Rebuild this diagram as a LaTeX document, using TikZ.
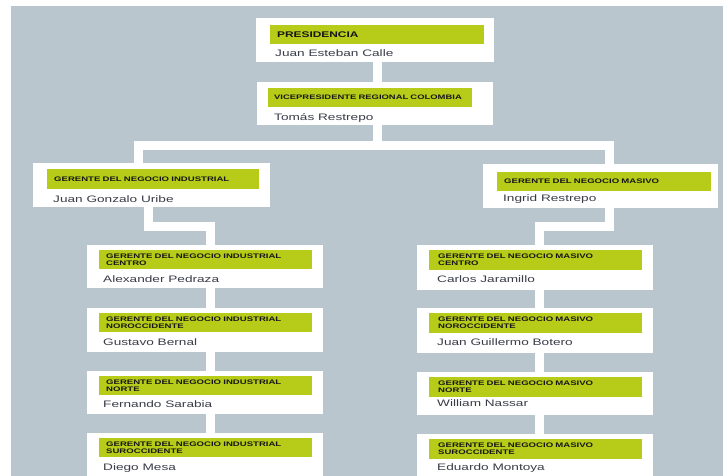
\documentclass[tikz,border=0pt]{standalone}
\usepackage{fontspec}
\setmainfont{Liberation Sans}
\newfontfamily\namefont[FakeStretch=1.45]{Liberation Sans}
\newfontfamily\labfont[FakeStretch=1.45]{Liberation Sans Bold}
\usetikzlibrary{calc}
\definecolor{bgcol}{RGB}{185,198,206}
\definecolor{barcol}{RGB}{183,204,24}
\definecolor{nametext}{RGB}{58,60,72}
\definecolor{labtext}{RGB}{22,22,22}
\begin{document}
\begin{tikzpicture}[x=1pt,y=-1pt,
  card/.style={fill=white, draw=none, anchor=north west, inner sep=0pt},
  bar/.style={fill=barcol, anchor=north west, inner xsep=7pt, inner ysep=0pt,
    align=left, text=labtext, font=\labfont\fontsize{6.6}{7}\selectfont},
  toplab/.style={font=\labfont\fontsize{8.2}{9}\selectfont},
  who/.style={anchor=base west, inner sep=0pt, text=nametext,
    font=\namefont\fontsize{9.4}{11}\selectfont},
  link/.style={draw=white, line width=9pt, line join=miter, line cap=butt}]

% canvas
\fill[white] (0,0) rectangle (723,476);
\useasboundingbox (0,0) rectangle (723,476);
\fill[bgcol] (11,6) rectangle (723,476);

% columns and rails used by the connectors
\coordinate (xtop) at (377,0);
\coordinate (xl)   at (138,0);
\coordinate (xlb)  at (148,0);
\coordinate (xr)   at (609,0);
\coordinate (xlc)  at (210,0);
\coordinate (xrc)  at (539,0);
\coordinate (bus)  at (0,145.5);
\coordinate (busl) at (0,226.5);
\coordinate (busr) at (0,226.5);

% cards (white background of every position)
\node[card, minimum width=238pt, minimum height=44pt] (pres) at (256,18) {};
\node[card, minimum width=236pt, minimum height=43pt] (vp)   at (257,82) {};
\node[card, minimum width=237pt, minimum height=44pt] (gi)   at (33,163) {};
\node[card, minimum width=235pt, minimum height=44pt] (gm)   at (483,164) {};
\node[card, minimum width=236pt, minimum height=43pt] (lc1)  at (87,245) {};
\node[card, minimum width=236pt, minimum height=44pt] (lc2)  at (87,308) {};
\node[card, minimum width=236pt, minimum height=43pt] (lc3)  at (87,371) {};
\node[card, minimum width=236pt, minimum height=46pt] (lc4)  at (87,433) {};
\node[card, minimum width=236pt, minimum height=45pt] (rc1)  at (417,245) {};
\node[card, minimum width=236pt, minimum height=45pt] (rc2)  at (417,308) {};
\node[card, minimum width=236pt, minimum height=43pt] (rc3)  at (417,372) {};
\node[card, minimum width=236pt, minimum height=46pt] (rc4)  at (417,434) {};

% connectors between the cards
\draw[link] (pres.south -| xtop) -- (vp.north -| xtop);
\draw[link] (vp.south -| xtop) -- (bus -| xtop);
\draw[link] (gi.north -| xl) -- (bus -| xl) -- (bus -| xr) -- (gm.north -| xr);
\draw[link] (gi.south -| xlb) -- (busl -| xlb) -- (busl -| xlc) -- (lc1.north -| xlc);
\draw[link] (gm.south -| xr) -- (busr -| xr) -- (busr -| xrc) -- (rc1.north -| xrc);
\draw[link] (lc1.south -| xlc) -- (lc2.north -| xlc);
\draw[link] (lc2.south -| xlc) -- (lc3.north -| xlc);
\draw[link] (lc3.south -| xlc) -- (lc4.north -| xlc);
\draw[link] (rc1.south -| xrc) -- (rc2.north -| xrc);
\draw[link] (rc2.south -| xrc) -- (rc3.north -| xrc);
\draw[link] (rc3.south -| xrc) -- (rc4.north -| xrc);

% title bars
\node[bar, toplab, text width=200pt, minimum height=19pt] (presbar) at ($(pres.north west)+(14,7)$) {PRESIDENCIA};
\node[bar, inner xsep=6pt, text width=192pt, minimum height=19pt, font=\labfont\fontsize{6.5}{7}\selectfont] (vpbar) at ($(vp.north west)+(11,6)$) {VICEPRESIDENTE REGIONAL COLOMBIA};
\node[bar, text width=198pt, minimum height=20pt] (gibar) at ($(gi.north west)+(14,6)$) {GERENTE DEL NEGOCIO INDUSTRIAL};
\node[bar, text width=200pt, minimum height=19pt] (gmbar) at ($(gm.north west)+(14,8)$) {GERENTE DEL NEGOCIO MASIVO};
\foreach \c/\r in {lc1/CENTRO, lc2/NOROCCIDENTE, lc3/NORTE, lc4/SUROCCIDENTE}{
  \node[bar, text width=199pt, minimum height=19.5pt] (\c bar) at ($(\c.north west)+(12,4.5)$)
    {GERENTE DEL NEGOCIO INDUSTRIAL\\\r};
}
\foreach \c/\r in {rc1/CENTRO, rc2/NOROCCIDENTE, rc3/NORTE, rc4/SUROCCIDENTE}{
  \node[bar, inner xsep=9pt, text width=195pt, minimum height=19.5pt] (\c bar) at ($(\c.north west)+(12,5)$)
    {GERENTE DEL NEGOCIO MASIVO\\\r};
}

% names
\node[who] (presname) at ($(pres.north west)+(19,39)$) {Juan Esteban Calle};
\node[who] (vpname) at ($(vp.north west)+(17,38.5)$) {Tomás Restrepo};
\node[who] (giname) at ($(gi.north west)+(20,39)$) {Juan Gonzalo Uribe};
\node[who] (gmname) at ($(gm.north west)+(20,37.5)$) {Ingrid Restrepo};
\node[who] (lc1name) at ($(lc1.north west)+(16,37)$) {Alexander Pedraza};
\node[who] (lc2name) at ($(lc2.north west)+(16,37.5)$) {Gustavo Bernal};
\node[who] (lc3name) at ($(lc3.north west)+(16,36.5)$) {Fernando Sarabia};
\node[who] (lc4name) at ($(lc4.north west)+(16,37)$) {Diego Mesa};
\node[who] (rc1name) at ($(rc1.north west)+(20,37)$) {Carlos Jaramillo};
\node[who] (rc2name) at ($(rc2.north west)+(20,37.5)$) {Juan Guillermo Botero};
\node[who] (rc3name) at ($(rc3.north west)+(20,34)$) {William Nassar};
\node[who] (rc4name) at ($(rc4.north west)+(20,36)$) {Eduardo Montoya};
\end{tikzpicture}
\end{document}
